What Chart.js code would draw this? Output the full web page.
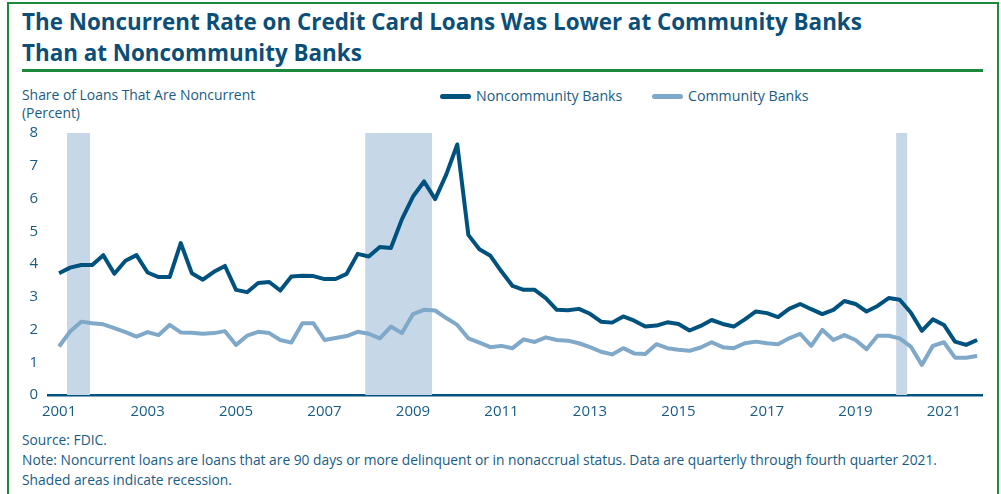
<!DOCTYPE html>
<html>
<head>
<meta charset="utf-8">
<script src="https://cdn.jsdelivr.net/npm/chart.js@4"></script>
<style>
  html, body { margin: 0; padding: 0; background: #fff; }
  body { width: 1001px; height: 494px; position: relative; overflow: hidden; font-family: "Open Sans", sans-serif; }
  #frame { position: absolute; left: 7px; top: 2px; width: 988px; height: 520px; border: 2px solid #1b8a3c; }
  #title { position: absolute; left: 22px; top: 6px; margin: 0; font-size: 22.4px; font-weight: 700; line-height: 31px; color: #0b4f79; }
  #rule { position: absolute; left: 22px; top: 69px; width: 961px; height: 3px; background: #1b8a3c; }
  #ytitle { position: absolute; left: 22px; top: 86px; font-size: 13.9px; line-height: 18px; color: #185c86; }
  .leg { position: absolute; top: 87px; font-size: 14.2px; line-height: 18px; color: #185c86; }
  .swatch { position: absolute; top: 94px; width: 31px; height: 5px; border-radius: 3px; }
  #notes { position: absolute; left: 22px; top: 430px; font-size: 13.8px; line-height: 20px; color: #185c86; }
  #wrap { position: absolute; left: 0; top: 114px; width: 1001px; height: 311px; }
</style>
</head>
<body>
<div id="frame"></div>
<h1 id="title">The Noncurrent Rate on Credit Card Loans Was Lower at Community Banks<br>Than at Noncommunity Banks</h1>
<div id="rule"></div>
<div id="ytitle">Share of Loans That Are Noncurrent<br>(Percent)</div>
<div class="swatch" style="left:440px;background:#00527e"></div>
<div class="leg" style="left:476px">Noncommunity Banks</div>
<div class="swatch" style="left:652px;background:#7fa8c9"></div>
<div class="leg" style="left:688px">Community Banks</div>
<div id="notes">Source: FDIC.<br>Note: Noncurrent loans are loans that are 90 days or more delinquent or in nonaccrual status. Data are quarterly through fourth quarter 2021.<br>Shaded areas indicate recession.</div>
<div id="wrap"><canvas id="chart"></canvas></div>
<script>
// quarterly, 2001 Q1 .. 2021 Q4
var firstYear = 2001, lastYear = 2021;
var quarters = [];
for (var yr = firstYear; yr <= lastYear; yr++) {
  for (var q = 1; q <= 4; q++) quarters.push(yr + ' Q' + q);
}

var noncommunity = [
  3.72, 3.89, 3.97, 3.97, 4.27, 3.70, 4.10, 4.27, 3.74, 3.60, 3.60, 4.64, 3.72, 3.52,
  3.76, 3.94, 3.21, 3.14, 3.42, 3.45, 3.19, 3.62, 3.64, 3.63, 3.54, 3.54, 3.70, 4.31,
  4.23, 4.52, 4.49, 5.37, 6.06, 6.52, 5.98, 6.73, 7.65, 4.89, 4.45, 4.25, 3.77, 3.33,
  3.21, 3.21, 2.96, 2.60, 2.59, 2.63, 2.48, 2.24, 2.21, 2.40, 2.27, 2.09, 2.12, 2.22,
  2.17, 1.97, 2.11, 2.29, 2.17, 2.09, 2.31, 2.55, 2.50, 2.38, 2.63, 2.78, 2.62, 2.47,
  2.60, 2.87, 2.78, 2.55, 2.72, 2.96, 2.91, 2.52, 1.96, 2.31, 2.14, 1.63, 1.53, 1.68
];
var community = [
  1.48, 1.94, 2.24, 2.19, 2.16, 2.04, 1.92, 1.78, 1.92, 1.83, 2.14, 1.91, 1.90, 1.87,
  1.89, 1.95, 1.53, 1.81, 1.93, 1.89, 1.68, 1.60, 2.19, 2.19, 1.68, 1.74, 1.80, 1.93,
  1.87, 1.73, 2.09, 1.89, 2.47, 2.60, 2.58, 2.35, 2.14, 1.73, 1.60, 1.46, 1.50, 1.43,
  1.70, 1.62, 1.76, 1.68, 1.66, 1.58, 1.46, 1.32, 1.24, 1.43, 1.27, 1.25, 1.55, 1.43,
  1.38, 1.35, 1.45, 1.61, 1.46, 1.43, 1.58, 1.63, 1.58, 1.55, 1.73, 1.87, 1.50, 1.99,
  1.68, 1.83, 1.68, 1.40, 1.81, 1.81, 1.73, 1.48, 0.92, 1.50, 1.61, 1.14, 1.14, 1.19
];
var yearTicks = [2001, 2003, 2005, 2007, 2009, 2011, 2013, 2015, 2017, 2019, 2021];
// recession periods, in decimal years
var recessions = [[2001.18, 2001.70], [2007.92, 2009.43], [2019.92, 2020.17]];

var darkBlue = '#00527e', lightBlue = '#7fa8c9', shade = '#c6d7e7', textBlue = '#185c86';

function toPoints(values) {
  return quarters.map(function (lbl, i) {
    var parts = lbl.split(' Q');
    return { x: +parts[0] + (parts[1] - 1) / 4, y: values[i] };
  });
}

var shading = {
  id: 'shading',
  beforeDatasetsDraw: function (chart) {
    var ctx = chart.ctx, x = chart.scales.x, y = chart.scales.y;
    ctx.save();
    ctx.fillStyle = shade;
    recessions.forEach(function (r) {
      var x0 = x.getPixelForValue(r[0]), x1 = x.getPixelForValue(r[1]);
      var y0 = y.getPixelForValue(8), y1 = y.getPixelForValue(0);
      ctx.fillRect(x0, y0, x1 - x0, y1 - y0);
    });
    ctx.restore();
  }
};

new Chart(document.getElementById('chart'), {
  type: 'line',
  data: {
    datasets: [{
      label: 'Community Banks',
      data: toPoints(community),
      borderColor: lightBlue,
      borderWidth: 4,
      pointRadius: 0,
      borderJoinStyle: 'round'
    }, {
      label: 'Noncommunity Banks',
      data: toPoints(noncommunity),
      borderColor: darkBlue,
      borderWidth: 4,
      pointRadius: 0,
      borderJoinStyle: 'round'
    }]
  },
  options: {
    responsive: true,
    maintainAspectRatio: false,
    animation: false,
    layout: { padding: { left: 0, right: 19, top: 7, bottom: 0 } },
    plugins: { legend: { display: false }, tooltip: { enabled: false } },
    scales: {
      x: {
        type: 'linear',
        min: 2000.75,
        max: 2021.86,
        afterBuildTicks: function (scale) {
          scale.ticks = yearTicks.map(function (v) { return { value: v }; });
        },
        afterFit: function (scale) { scale.height = 30; },
        grid: { display: false, drawTicks: false },
        border: { display: true, color: darkBlue, width: 2.5 },
        ticks: {
          padding: 8,
          color: textBlue,
          font: { family: 'Open Sans', size: 15 },
          callback: function (v) { return String(v); },
          maxRotation: 0,
          autoSkip: false
        }
      },
      y: {
        min: 0,
        max: 8,
        afterFit: function (scale) { scale.width = 48; },
        grid: { display: false, drawTicks: false },
        border: { display: false },
        ticks: {
          stepSize: 1,
          padding: 10,
          color: textBlue,
          font: { family: 'Open Sans', size: 15 }
        }
      }
    }
  },
  plugins: [shading]
});
</script>
</body>
</html>
